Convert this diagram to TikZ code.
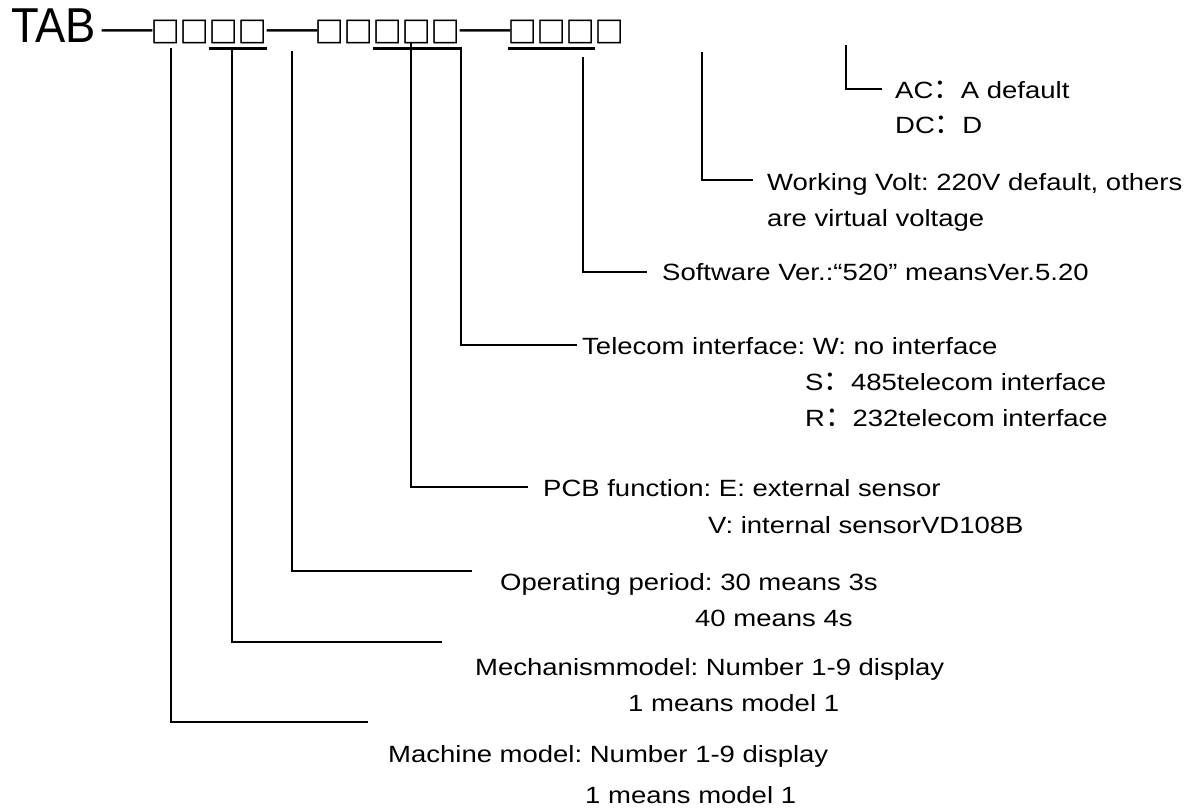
\documentclass[tikz,border=0pt]{standalone}
\usepackage{fontspec}
\setmainfont{Liberation Sans}[FakeStretch=1.17]
\newfontfamily\cjk{Noto Sans CJK SC}
\newfontfamily\cjkbox{Noto Sans CJK SC}[FakeBold=1.2]
\newfontfamily\headfont{Liberation Sans}[FakeStretch=0.925]
\newfontfamily\dashfont{Liberation Serif}
\newcommand{\fwcolon}{{\cjk\fontsize{27.5}{27.5}\selectfont ：}}
\begin{document}
\frenchspacing
\begin{tikzpicture}[x=1pt,y=-1pt,
  txt/.style={anchor=base west,inner sep=0pt,font=\fontsize{23.5}{23.5}\selectfont\frenchspacing},
  head/.style={anchor=base west,inner sep=0pt,font=\headfont\fontsize{49}{49}\selectfont},
  dashtxt/.style={anchor=base west,inner sep=0pt,font=\dashfont\fontsize{50}{50}\selectfont},
  boxes/.style={anchor=west,inner sep=0pt,font=\cjkbox\fontsize{29}{29}\selectfont},
  conn/.style={line width=1.4pt},
  uline/.style={line width=3pt}]
\useasboundingbox (0,0) rectangle (1198,809);
% header
\node[head] (tab) at (11,42) {TAB};
\node[dashtxt] (d1) at (102,42) {—};
\node[boxes] (g1) at (150.5,31.5) {□□□□};
\node[dashtxt] (d2) at (267,42) {—};
\node[boxes] (g2) at (314.5,31.5) {□□□□□};
\node[dashtxt] (d3) at (460,42) {—};
\node[boxes] (g3) at (507.5,31.5) {□□□□};
% underlines
\coordinate (u1a) at (209,48); \coordinate (u1b) at (267,48);
\coordinate (u2a) at (373,48); \coordinate (u2b) at (462,48);
\coordinate (u3a) at (508,48); \coordinate (u3b) at (595,48);
\draw[uline] (u1a) -- (u1b);
\draw[uline] (u2a) -- (u2b);
\draw[uline] (u3a) -- (u3b);
% texts
\node[txt] (ac) at (895,98) {AC\fwcolon A default};
\node[txt] (dc) at (895,133) {DC\fwcolon D};
\node[txt] (wv) at (767,190) {Working Volt: 220V default, others};
\node[txt] (wv2) at (767,226) {are virtual voltage};
\node[txt] (sw) at (662,280) {Software Ver.:“520” meansVer.5.20};
\node[txt] (tel) at (582,354) {Telecom interface: W: no interface};
\node[txt] (tel2) at (805,390) {S\fwcolon 485telecom interface};
\node[txt] (tel3) at (805,426) {R\fwcolon 232telecom interface};
\node[txt] (pcb) at (543,496) {PCB function: E: external sensor};
\node[txt] (pcb2) at (708,533) {V: internal sensorVD108B};
\node[txt] (op) at (500,590) {Operating period: 30 means 3s};
\node[txt] (op2) at (695,626) {40 means 4s};
\node[txt] (mech) at (475,675) {Mechanismmodel: Number 1-9 display};
\node[txt] (mech2) at (628,711) {1 means model 1};
\node[txt] (mach) at (388,762) {Machine model: Number 1-9 display};
\node[txt] (mach2) at (585,803) {1 means model 1};
% connectors
\coordinate (t1) at (171,48);  \coordinate (e1) at (368,722);
\coordinate (t2) at (232,48);  \coordinate (e2) at (442,642);
\coordinate (t3) at (292,51);  \coordinate (e3) at (472,571);
\coordinate (t4) at (411,43);  \coordinate (e4) at (528,487);
\coordinate (t5) at (461,48);  \coordinate (e5) at (577,345);
\coordinate (t6) at (583,57);  \coordinate (e6) at (647,272);
\coordinate (t7) at (702,52);  \coordinate (e7) at (753,180);
\coordinate (t8) at (846,45);  \coordinate (e8) at (882,89);
\foreach \i in {1,...,8} \draw[conn] (t\i) |- (e\i);
\end{tikzpicture}
\end{document}
